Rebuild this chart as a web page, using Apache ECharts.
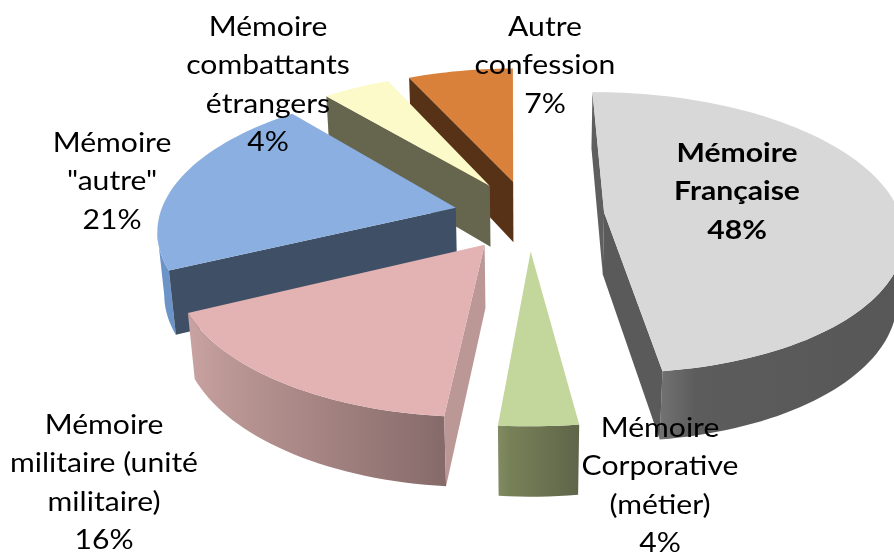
<!DOCTYPE html>
<html>
<head>
<meta charset="utf-8">
<style>
html, body { margin: 0; padding: 0; background: #fff; }
#main { width: 894px; height: 556px; }
</style>
<script src="https://cdn.jsdelivr.net/npm/echarts@6/dist/echarts.min.js"></script>
</head>
<body>
<div id="main"></div>
<script>
const names = ['Mémoire\nFrançaise', 'Mémoire\nCorporative\n(métier)', 'Mémoire\nmilitaire (unité\nmilitaire)', 'Mémoire\n"autre"', 'Mémoire\ncombattants\nétrangers', 'Autre\nconfession'];
const values = [48, 3.6, 16.4, 21, 4.3, 6.7];

// back slices first so the front ones cover them
const drawOrder = [5, 4, 3, 0, 2, 1];

const topColors = ['#d8d8d8', '#c3d69b', '#e2b3b2', '#8aafe0', '#fbfac8', '#d9803b'];
const startWall = ['#5f5f5f', '#6b7350', '#bb9795', '#3f4f66', '#66664f', '#583216'];
const endWall = ['#5a5a5a', '#6b7350', '#bb9795', '#3f4f66', '#66664f', '#583216'];
const outerLeft = ['#727272', '#808b63', '#c9a3a1', '#6d94c8', '#8c8c70', '#7a4a20'];
const outerMid = ['#5c5c5c', '#778158', '#bb9795', '#6d94c8', '#8c8c70', '#7a4a20'];
const outerRight = ['#575757', '#5e6549', '#866a6a', '#6d94c8', '#8c8c70', '#7a4a20'];

const labelPos = [[737, 134], [660, 409], [104, 406], [112, 124], [268, 8], [545, 8]];
const boldLabel = [true, false, false, false, false, false];

// 3d view of the pie
const startDeg = -0.5;
const viewX = 529, viewY = 215;
const radius = 296, flat = 0.467, camera = 7, explode = 0.255, depth = 63, sink = 0.13;

const total = values.reduce((a, b) => a + b, 0);
const starts = [];
values.reduce((sum, v, i) => { starts[i] = sum; return sum + v; }, 0);

function project(x, z, h) {
    const s = camera / (camera - z + h * sink);
    return [viewX + radius * s * x, viewY + radius * s * flat * z + s * h * depth];
}

function renderSlice(params, api) {
    const i = api.value(0);
    const a0 = (startDeg + starts[i] / total * 360) * Math.PI / 180;
    const a1 = (startDeg + (starts[i] + values[i]) / total * 360) * Math.PI / 180;
    const mid = (a0 + a1) / 2;
    const ox = Math.sin(mid) * explode, oz = -Math.cos(mid) * explode;
    const rim = (a, h) => project(ox + Math.sin(a), oz - Math.cos(a), h);
    const apexTop = project(ox, oz, 0), apexBot = project(ox, oz, 1);

    const steps = Math.max(8, Math.round((a1 - a0) / 0.03));
    const arcTop = [];
    const visibleTop = [], visibleBot = [];
    for (let k = 0; k <= steps; k++) {
        const a = a0 + (a1 - a0) * k / steps;
        arcTop.push(rim(a, 0));
        if (k < steps) {
            const next = a0 + (a1 - a0) * (k + 1) / steps;
            if (rim(next, 0)[0] < rim(a, 0)[0]) {
                if (!visibleTop.length) { visibleTop.push(rim(a, 0)); visibleBot.push(rim(a, 1)); }
                visibleTop.push(rim(next, 0));
                visibleBot.push(rim(next, 1));
            }
        }
    }

    const children = [];
    if (visibleTop.length) {
        children.push({
            type: 'polygon',
            shape: { points: visibleTop.concat(visibleBot.reverse()) },
            style: {
                fill: { type: 'linear', x: 0, y: 0, x2: 1, y2: 0,
                    colorStops: [
                        { offset: 0, color: outerLeft[i] },
                        { offset: 0.15, color: outerMid[i] },
                        { offset: 1, color: outerRight[i] }
                    ] }
            }
        });
    }
    // flat cut faces, only those turned to the viewer
    if (rim(a0, 0)[0] < apexTop[0]) {
        children.push({ type: 'polygon', shape: { points: [apexTop, rim(a0, 0), rim(a0, 1), apexBot] }, style: { fill: startWall[i] } });
    }
    if (rim(a1, 0)[0] > apexTop[0]) {
        children.push({ type: 'polygon', shape: { points: [apexTop, rim(a1, 0), rim(a1, 1), apexBot] }, style: { fill: endWall[i] } });
    }
    children.push({ type: 'polygon', shape: { points: [apexTop].concat(arcTop) }, style: { fill: topColors[i] } });
    return { type: 'group', children: children };
}

const myChart = echarts.init(document.getElementById('main'), null, { renderer: 'canvas' });
myChart.setOption({
    backgroundColor: '#ffffff',
    animation: false,
    series: [{
        type: 'custom',
        coordinateSystem: 'none',
        silent: true,
        data: drawOrder.map(i => [i, values[i]]),
        renderItem: renderSlice
    }],
    graphic: names.map((name, i) => ({
        type: 'text',
        x: labelPos[i][0],
        y: labelPos[i][1],
        scaleX: 1.115,
        z: 100,
        silent: true,
        style: {
            text: name + '\n' + Math.round(values[i]) + '%',
            font: (boldLabel[i] ? 'bold ' : '') + '27px Lato',
            fill: '#000',
            align: 'center',
            verticalAlign: 'top',
            lineHeight: 38.5
        }
    }))
});
</script>
</body>
</html>
